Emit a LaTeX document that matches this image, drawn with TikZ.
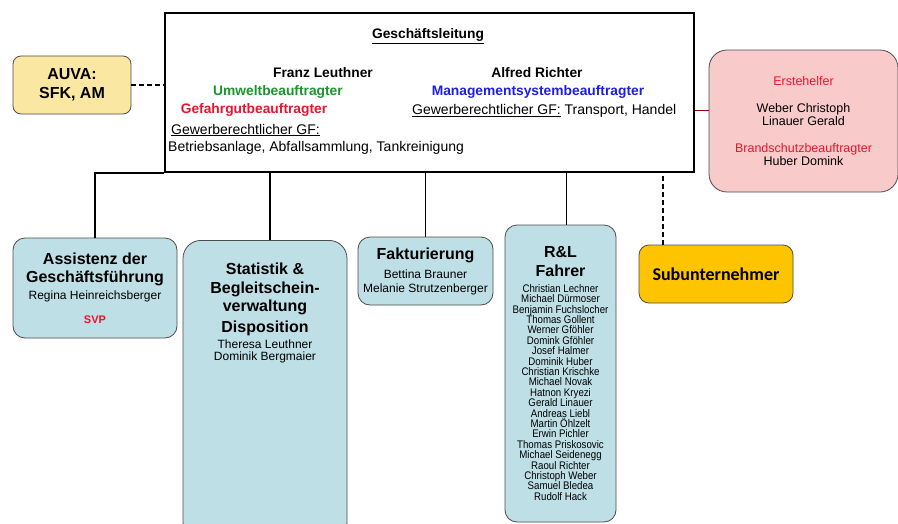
\documentclass[tikz,border=0pt]{standalone}
\usepackage{fontspec}
\setmainfont{Liberation Sans}
\newfontfamily\calibri{Carlito}
\newfontfamily\narrowfont[FakeStretch=0.88]{Liberation Sans}
\usetikzlibrary{positioning}
\definecolor{unitblue}{RGB}{190,223,230}
\definecolor{aidpink}{RGB}{248,202,202}
\definecolor{auvayellow}{RGB}{250,231,162}
\definecolor{subgold}{RGB}{255,196,0}
\definecolor{ugreen}{RGB}{25,150,45}
\definecolor{ured}{RGB}{235,20,45}
\definecolor{ublue}{RGB}{30,30,225}
\tikzstyle{unit} = [draw=black!70, thick, fill=unitblue, rounded corners=12pt, align=center, inner sep=0pt]
\tikzstyle{lead} = [font=\fontsize{14}{16}\selectfont]
\tikzstyle{leadbold} = [font=\fontsize{13.8}{16}\selectfont\bfseries]
\tikzstyle{link} = [line width=1.6pt]

\begin{document}
\begin{tikzpicture}[x=1pt,y=-1pt]
	\useasboundingbox (0,0) rectangle (898,523);

	\node[draw, line width=1.6pt, minimum width=529pt, minimum height=159pt] (board) at (429.5,92.5) {};
	\node[leadbold] (boardtitle) at (428,36) {\underline{Geschäftsleitung}};
	\node[leadbold] (franz) at (323,73) {Franz Leuthner};
	\node[leadbold, text=ugreen] (umwelt) at (278,92) {Umweltbeauftragter};
	\node[leadbold, text=ured] (gefahr) at (254,110) {Gefahrgutbeauftragter};
	\node[lead, anchor=west, inner sep=0pt] (gfleft) at (171,130) {\underline{Gewerberechtlicher GF:}};
	\node[lead, anchor=west, inner sep=0pt] (betrieb) at (168,148) {Betriebsanlage, Abfallsammlung, Tankreinigung};
	\node[leadbold] (alfred) at (537,73) {Alfred Richter};
	\node[leadbold, text=ublue] (mgmt) at (538,92) {Managementsystembeauftragter};
	\node[lead, anchor=west, inner sep=0pt] (gfright) at (412,111) {\underline{Gewerberechtlicher GF:} Transport, Handel};

	\node[draw=black!70, thick, fill=auvayellow, rounded corners=8pt, minimum width=118pt, minimum height=58pt,
		align=center, font=\fontsize{16}{19}\selectfont\bfseries] (auva) at (72,85) {AUVA:\\SFK, AM};

	\node[draw=black!70, thick, fill=aidpink, rounded corners=18pt, minimum width=189pt, minimum height=142pt,
		align=center, font=\fontsize{12.5}{13}\selectfont] (aid) at (803.5,121)
		{\textcolor{ured}{Erstehelfer}\\[14pt] Weber Christoph\\ Linauer Gerald\\[14pt]
		\textcolor{ured}{Brandschutzbeauftragter}\\ Huber Domink};

	\node[unit, minimum width=164pt, minimum height=100pt, font={\fontsize{16}{18.5}\selectfont\bfseries\lineskiplimit=-20pt}] (asst) at (95,288)
		{Assistenz der\\ Geschäftsführung\\[-1.4pt]
		{\mdseries\fontsize{12}{12}\selectfont Regina Heinreichsberger}\\[4.9pt]
		{\fontsize{11}{11}\selectfont\textcolor{ured}{SVP}}};

	\node[unit, rounded corners=18pt, minimum width=164pt, minimum height=300pt, anchor=north] (stat) at (265,240) {};
	\node[align=center, anchor=north, inner sep=0pt, font={\fontsize{16}{18.5}\selectfont\bfseries\lineskiplimit=-20pt}] (statlabel) at (265,263)
		{Statistik \&\\ Begleitschein-\\ verwaltung\\[2.5pt] Disposition\\[-2.5pt]
		{\mdseries\fontsize{12}{12}\selectfont Theresa Leuthner}\\[-6.8pt]
		{\mdseries\fontsize{12}{12}\selectfont Dominik Bergmaier}};

	\node[unit, minimum width=135pt, minimum height=68pt, font={\fontsize{12}{13.5}\selectfont\lineskiplimit=-20pt}] (fakt) at (425.5,271)
		{{\fontsize{16}{16}\selectfont\bfseries Fakturierung}\\[5.9pt]
		Bettina Brauner\\ Melanie Strutzenberger};

	\node[unit, minimum width=111pt, minimum height=297pt, font={\narrowfont\fontsize{11}{10.4}\selectfont\lineskiplimit=-20pt}] (drivers) at (560.5,373.5)
		{{\normalfont\fontsize{16}{16}\selectfont\bfseries R\&L}\\[8.6pt]
		{\normalfont\fontsize{16}{16}\selectfont\bfseries Fahrer}\\[5.4pt]
		Christian Lechner\\ Michael Dürmoser\\ Benjamin Fuchslocher\\
		Thomas Gollent\\ Werner Gföhler\\ Domink Gföhler\\ Josef Halmer\\ Dominik Huber\\ Christian Krischke\\
		Michael Novak\\ Hatnon Kryezi\\ Gerald Linauer\\ Andreas Liebl\\ Martin Öhlzelt\\ Erwin Pichler\\
		Thomas Priskosovic\\ Michael Seidenegg\\ Raoul Richter\\ Christoph Weber\\ Samuel Bledea\\ Rudolf Hack};

	\node[draw=black!70, thick, fill=subgold, rounded corners=10pt, minimum width=154pt, minimum height=58pt,
		font=\calibri\fontsize{18}{20}\selectfont\bfseries] (sub) at (716,274) {Subunternehmer};

	\draw[link] (asst.north) |- (board.south west);
	\draw[link] ([xshift=5pt]stat.north) -- ([xshift=5pt]stat.north |- board.south);
	\draw[link] (fakt.north) -- (fakt.north |- board.south);
	\draw[link] ([xshift=6pt]drivers.north) -- ([xshift=6pt]drivers.north |- board.south);
	\draw[link, dash pattern=on 5pt off 3pt] ([xshift=-53pt]sub.north) -- ([xshift=-53pt]sub.north |- board.south);
	\draw[link, dash pattern=on 5pt off 3pt] (auva.east) -- (auva.east -| board.west);
	\draw[red!60!black] ([yshift=-18pt]board.east) -- ([yshift=-18pt]board.east -| aid.west);

\end{tikzpicture}
\end{document}
